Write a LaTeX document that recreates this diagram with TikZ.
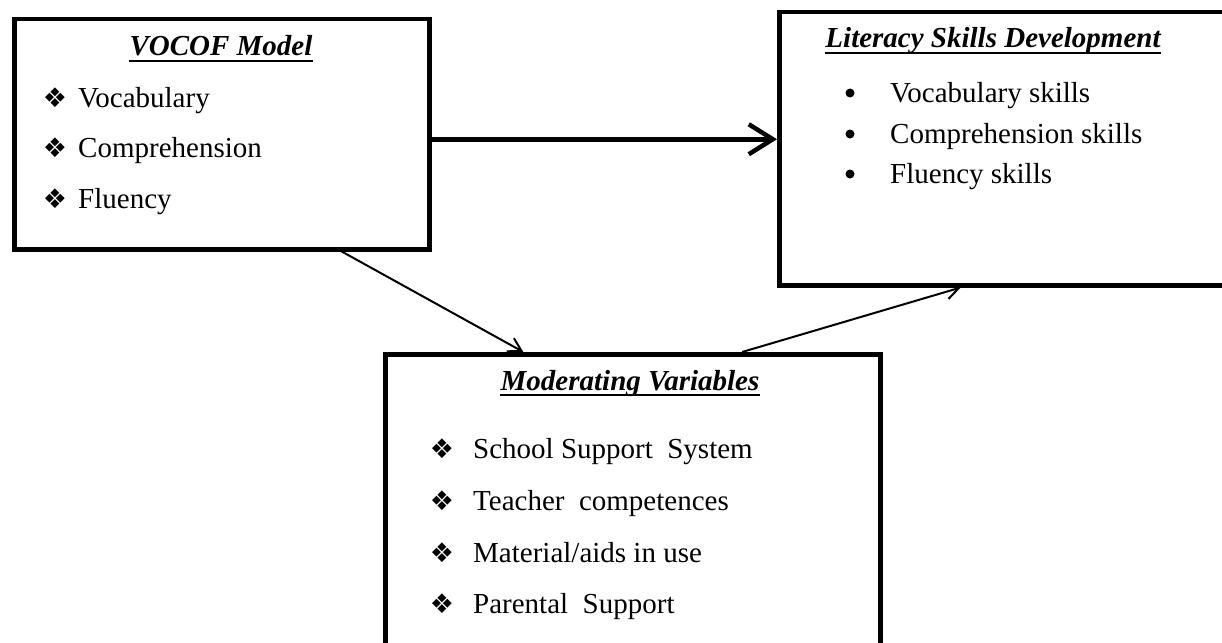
\documentclass[tikz,border=0pt]{standalone}
\usepackage{fontspec}
\setmainfont{Liberation Serif}
\newfontfamily\symfont{DejaVu Sans}
\usetikzlibrary{arrows.meta,calc,positioning}
\tikzset{
  panel/.style={draw,line width=4.5pt,rectangle,anchor=north west,inner sep=0pt},
  heading/.style={anchor=base,inner sep=0pt,font=\fontsize{29}{34}\selectfont\bfseries\itshape},
  entry/.style={anchor=base west,inner sep=0pt,font=\fontsize{29}{34}\selectfont},
  diam/.style={anchor=base,inner sep=0pt,font=\fontsize{27}{30}\symfont},
  dot/.style={circle,fill,inner sep=0pt,minimum size=9pt},
  bigarrow/.style={line width=4.5pt,-{Straight Barb[length=24pt,width=30pt,line width=4.5pt]}},
  thinarrow/.style={line width=2pt,-{Straight Barb[length=13pt,width=15pt,line width=2pt]}}
}
\newcommand{\headline}[1]{\draw[line width=2.5pt]($(#1.base west)+(0,5)$)--($(#1.base east)+(0,5)$);}
\begin{document}
\begin{tikzpicture}[x=1pt,y=-1pt]
\useasboundingbox (0,0) rectangle (1222,642);
\clip (0,0) rectangle (1222,642);
\fill[white] (0,0) rectangle (1222,642);
% boxes
\node[panel,minimum width=415pt,minimum height=230pt] (vocof) at (12,17) {};
\node[panel,minimum width=463pt,minimum height=273pt] (lit) at (777,10) {};
\node[panel,minimum width=495pt,minimum height=310pt] (mod) at (383,352) {};
% VOCOF Model
\node[heading] (tA) at (221,56) {VOCOF Model};
\headline{tA}
\node[diam] (dA1) at (55,107) {❖};
\node[entry] (eA1) at (78,107) {Vocabulary};
\node[diam] (dA2) at (55,157) {❖};
\node[entry] (eA2) at (78,157) {Comprehension};
\node[diam] (dA3) at (55,208) {❖};
\node[entry] (eA3) at (78,208) {Fluency};
% Literacy Skills Development
\node[heading] (tB) at (993,48) {Literacy Skills Development};
\headline{tB}
\node[dot] (dB1) at (850,93) {};
\node[entry] (eB1) at (890,102) {Vocabulary skills};
\node[dot] (dB2) at (850,134) {};
\node[entry] (eB2) at (890,143) {Comprehension skills};
\node[dot] (dB3) at (850,174) {};
\node[entry] (eB3) at (890,183) {Fluency skills};
% Moderating Variables
\node[heading] (tC) at (630,390) {Moderating Variables};
\headline{tC}
\node[diam] (dC1) at (442,458) {❖};
\node[entry] (eC1) at (473,458) {School Support\ \ System};
\node[diam] (dC2) at (442,510) {❖};
\node[entry] (eC2) at (473,510) {Teacher\ \ competences};
\node[diam] (dC3) at (442,562) {❖};
\node[entry] (eC3) at (473,562) {Material/aids in use};
\node[diam] (dC4) at (442,613) {❖};
\node[entry] (eC4) at (473,613) {Parental\ \ Support};
% arrows
\draw[bigarrow]([yshift=-5pt]vocof.east)--([yshift=-5pt]vocof.east -| lit.west);
\draw[thinarrow]($(vocof.south west)!0.786!(vocof.south east)$)--($(mod.north west)!0.281!(mod.north east)$);
\draw[thinarrow]($(mod.north west)!0.719!(mod.north east)$)--($(lit.south west)!0.393!(lit.south east)$);
\end{tikzpicture}
\end{document}
